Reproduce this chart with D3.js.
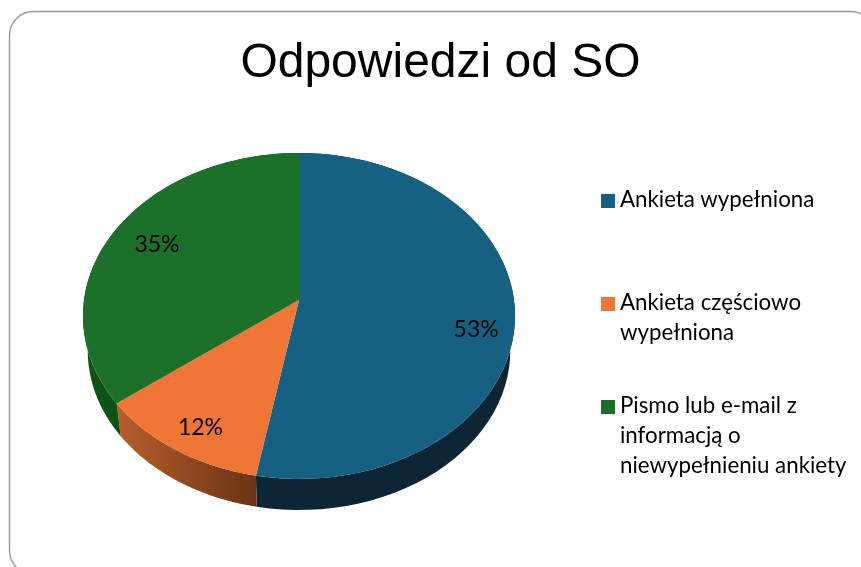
<!DOCTYPE html>
<html>
<head>
<meta charset="utf-8">
<script src="https://d3js.org/d3.v7.min.js"></script>
<style>
  html, body { margin: 0; padding: 0; background: #fff; overflow: hidden; }
  svg { display: block; }
</style>
</head>
<body>
<svg id="chart"></svg>
<script>
const title = 'Odpowiedzi od SO';
const categories = ['Ankieta wypełniona', 'Ankieta częściowo wypełniona', 'Pismo lub e-mail z informacją o niewypełnieniu ankiety'];
// slice sizes, they round to the printed 53 / 12 / 35
const values = [52.9, 11.8, 35.3];
const legendLines = [
  ['Ankieta wypełniona'],
  ['Ankieta częściowo', 'wypełniona'],
  ['Pismo lub e-mail z', 'informacją o', 'niewypełnieniu ankiety'],
];
const topColors = ['#166082', '#ef7635', '#1e6f2a'];
const sideColors = ['#0a2535', 'url(#orangeSide)', '#0f5218'];

const width = 861;
const height = 567;
const calibri = 'Lato, Carlito, sans-serif';

const svg = d3.select('#chart').attr('width', width).attr('height', height);
const defs = svg.append('defs');

// orange side goes darker towards the right
const grad = defs.append('linearGradient')
  .attr('id', 'orangeSide')
  .attr('gradientUnits', 'userSpaceOnUse')
  .attr('x1', 117).attr('x2', 257).attr('y1', 0).attr('y2', 0);
grad.append('stop').attr('offset', '0%').attr('stop-color', '#b65f2c');
grad.append('stop').attr('offset', '100%').attr('stop-color', '#6a3415');

// the reference is a slightly soft screenshot
defs.append('filter')
  .attr('id', 'soft')
  .append('feGaussianBlur')
  .attr('stdDeviation', 0.4);

// slide frame, runs off the bottom and the right of the crop
svg.append('rect')
  .attr('x', 9.5).attr('y', 11.5)
  .attr('width', 865).attr('height', 563)
  .attr('rx', 24).attr('ry', 24)
  .attr('fill', 'none')
  .attr('stroke', '#999')
  .attr('stroke-width', 1.4);

const chart = svg.append('g').attr('filter', 'url(#soft)');

chart.append('text')
  .attr('x', 440.5).attr('y', 77)
  .attr('text-anchor', 'middle')
  .attr('font-family', 'Liberation Sans, Arial, sans-serif')
  .attr('font-size', 48)
  .attr('fill', '#000')
  .text(title);

// the pie is a circle seen in perspective, so the apex sits above the ellipse centre
const cx = 299;
const apexY = 300;
const radiusX = 215;
const radiusY = 161.4;
const tilt = 0.098;
const depthScale = 0.978;
const depthY = 335;

const project = (angle, y0 = apexY, scale = 1) => {
  const u = Math.cos(angle);
  const v = Math.sin(angle);
  const w = 1 + tilt * u;
  return [cx + scale * radiusX * v / w, y0 - scale * radiusY * u / w];
};

const pie = d3.pie().sort(null).value(d => d);
const slices = pie(values);
const line = d3.line();

const arcAngles = d => d3.range(0, 61).map(i => d.startAngle + (d.endAngle - d.startAngle) * i / 60);

const sidePath = d => {
  const angles = arcAngles(d);
  const upper = angles.map(a => project(a));
  const lower = angles.map(a => project(a, depthY, depthScale)).reverse();
  return `${line(upper.concat(lower))}Z`;
};

const topPath = d => {
  const pts = [[cx, apexY]].concat(arcAngles(d).map(a => project(a)));
  return `${line(pts)}Z`;
};

chart.append('g').selectAll('path')
  .data(slices)
  .enter()
  .append('path')
  .attr('d', sidePath)
  .attr('fill', (d, i) => sideColors[i]);

chart.append('g').selectAll('path')
  .data(slices)
  .enter()
  .append('path')
  .attr('d', topPath)
  .attr('fill', (d, i) => topColors[i]);

// label placement along the slice middle, nudged down where needed
const labelRadius = [0.82, 0.8, 0.77];
const labelNudge = [17, 7.5, -3];
const labelPoint = d => {
  const p = project((d.startAngle + d.endAngle) / 2);
  return [
    cx + (p[0] - cx) * labelRadius[d.index],
    apexY + (p[1] - apexY) * labelRadius[d.index] + labelNudge[d.index],
  ];
};

chart.append('g').selectAll('text')
  .data(slices)
  .enter()
  .append('text')
  .attr('x', d => labelPoint(d)[0])
  .attr('y', d => labelPoint(d)[1])
  .attr('dy', '0.35em')
  .attr('text-anchor', 'middle')
  .attr('font-family', calibri)
  .attr('font-size', 23)
  .attr('fill', '#000')
  .text(d => `${d3.format('.0f')(d.value)}%`);

const legendTop = [201, 304, 407];
const legend = chart.append('g').selectAll('g')
  .data(categories)
  .enter()
  .append('g')
  .attr('transform', (d, i) => `translate(601,${legendTop[i]})`);

legend.append('rect')
  .attr('x', 0).attr('y', -7)
  .attr('width', 14).attr('height', 14)
  .attr('fill', (d, i) => topColors[i]);

legend.append('text')
  .attr('font-family', calibri)
  .attr('font-size', 22.3)
  .attr('fill', '#000')
  .selectAll('tspan')
  .data((d, i) => legendLines[i])
  .enter()
  .append('tspan')
  .attr('x', 19)
  .attr('y', (d, i) => 6.2 + i * 30)
  .text(d => d);
</script>
</body>
</html>
